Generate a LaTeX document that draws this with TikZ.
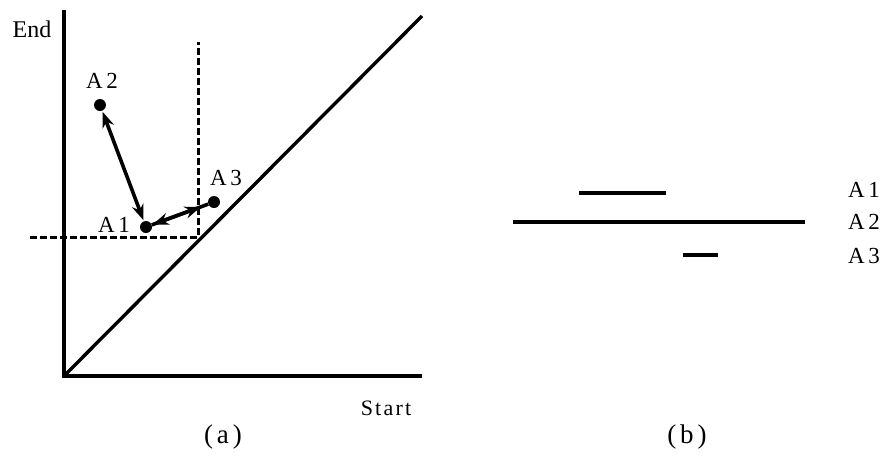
\documentclass[tikz,border=0pt]{standalone}
\usepackage{fontspec}
\setmainfont{Liberation Serif}
\usetikzlibrary{arrows.meta, positioning}

\begin{document}
\begin{tikzpicture}[x=1pt, y=-1pt,
  axis/.style={line width=3.4pt},
  guide/.style={line width=3pt, dash pattern=on 7pt off 3pt},
  dot/.style={circle, fill, inner sep=0pt, minimum size=12pt},
  arr/.style={line width=3.6pt, {Stealth[length=16pt,width=12pt]}-{Stealth[length=16pt,width=12pt]}, shorten <=1pt, shorten >=1pt},
  lbl/.style={font=\fontsize{23}{25}\selectfont\addfontfeature{LetterSpace=16}, inner sep=0pt},
  captxt/.style={font=\fontsize{27}{29}\selectfont\addfontfeature{LetterSpace=14}, inner sep=0pt},
  span/.style={line width=3.4pt}]
  \useasboundingbox (0,0) rectangle (886,464);

  % (a) start/end plane
  \coordinate (o) at (64,376);
  \coordinate (ytop) at (64,10);
  \coordinate (xend) at (422,376);
  \coordinate (diag) at (422,16);
  \draw[axis] (ytop) -- (o) -- (xend);
  \draw[axis] (o) -- (diag);
  \node[font=\fontsize{24}{26}\selectfont, inner sep=0pt] (endlbl) at (32,29) {End};
  \node[font=\fontsize{22}{24}\selectfont\addfontfeature{LetterSpace=10}, inner sep=0pt] (startlbl) at (386,408) {Start};

  % reference lines through A3
  \coordinate (hl) at (30,237);
  \coordinate (corner) at (198,237);
  \coordinate (vt) at (198,42);
  \draw[guide] (hl) -- (corner) -- (vt);

  % intervals as points
  \node[dot] (a1) at (146,227) {};
  \node[dot] (a2) at (100,105) {};
  \node[dot] (a3) at (214,202) {};
  \node[lbl] at (114,225) {A1};
  \node[lbl] at (102,81) {A2};
  \node[lbl] at (226,178) {A3};

  \draw[arr] (a1) -- (a2);
  \draw[line width=3.6pt] (a1) -- (a3);
  \draw[arr, shorten >=8pt] (a1) -- (a3);

  % (b) intervals as bars
  \draw[span] (579,193) -- (666,193);
  \draw[span] (513,222) -- (805,222);
  \draw[span] (683,255) -- (718,255);
  \node[lbl] (b1) at (864,190) {A1};
  \node[lbl] (b2) at (864,222) {A2};
  \node[lbl] (b3) at (864,256) {A3};

  % captions
  \node[captxt] (capa) at (223,437) {(a)};
  \node[captxt] (capb) at (687,437) {(b)};
\end{tikzpicture}
\end{document}
